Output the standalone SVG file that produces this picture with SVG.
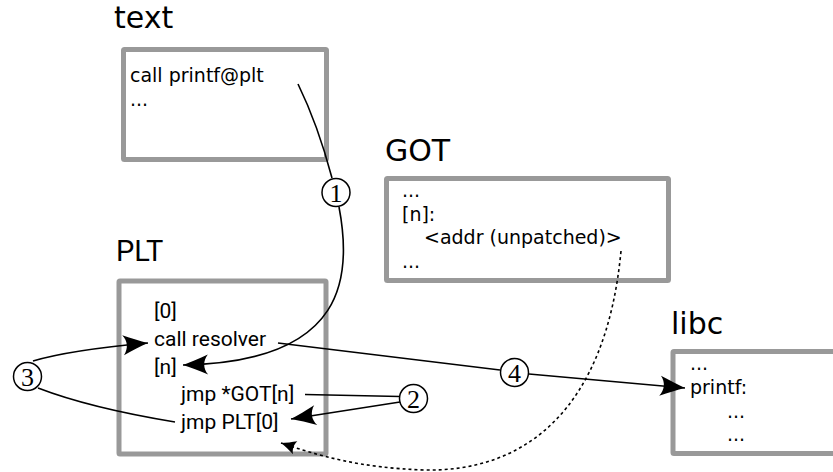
<svg xmlns="http://www.w3.org/2000/svg" width="833" height="472" viewBox="0 0 833 472">
<style>
.box{fill:#fff;stroke:#999;stroke-width:5;}
.title{font-family:"DejaVu Sans",sans-serif;font-size:30px;fill:#000;}
.titler{font-family:Roboto,sans-serif;font-size:29px;fill:#000;}
.t{font-family:"DejaVu Sans",sans-serif;font-size:19px;fill:#000;}
.r{font-family:Roboto,sans-serif;font-size:21px;fill:#000;}
.num{font-family:"Liberation Serif",serif;font-size:26px;fill:#000;text-anchor:middle;}
.circ{fill:#fff;stroke:#000;stroke-width:1.5;}
.ln{fill:none;stroke:#000;stroke-width:1.6;}
.dot{fill:none;stroke:#000;stroke-width:1.6;stroke-dasharray:3,3;}
</style>
<defs>
<marker id="arr" markerUnits="userSpaceOnUse" markerWidth="30" markerHeight="30" viewBox="-22 -10 24 20" refX="0" refY="0" orient="auto">
<path d="M0,0 C-6,-2 -13,-5 -20,-8 C-16,-3 -16,3 -20,8 C-13,5 -6,2 0,0 Z" fill="#000"/>
</marker>
<marker id="arrs" markerUnits="userSpaceOnUse" markerWidth="20" markerHeight="20" viewBox="-14 -7 16 14" refX="0" refY="0" orient="auto">
<path d="M0,0 C-4,-1.4 -8,-3.5 -12,-5.5 C-10,-2 -10,2 -12,5.5 C-8,3.5 -4,1.4 0,0 Z" fill="#000"/>
</marker>
</defs>

<g id="text-node">
<text class="title" x="114" y="28">text</text>
<rect class="box" x="123.5" y="49.5" width="203" height="110" rx="1"/>
<text class="t" x="130" y="82">call printf@plt</text>
<text class="t" x="130" y="106">...</text>
</g>

<g id="got-node">
<text class="title" x="385" y="161">GOT</text>
<rect class="box" x="386.5" y="178.5" width="282" height="102" rx="1"/>
<text class="t" x="402" y="197">...</text>
<text class="t" x="402" y="220.5">[n]:</text>
<text class="t" x="424" y="244">&lt;addr (unpatched)&gt;</text>
<text class="t" x="402" y="267.5">...</text>
</g>

<g id="plt-node">
<text class="titler" x="116" y="261">PLT</text>
<rect class="box" x="119" y="281" width="207" height="173" rx="1"/>
<text class="r" x="154" y="318">[0]</text>
<text class="r" x="154" y="346">call resolver</text>
<text class="r" x="154" y="374">[n]</text>
<text class="r" x="181" y="401">jmp *GOT[n]</text>
<text class="r" x="181" y="429">jmp PLT[0]</text>
</g>

<g id="libc-node">
<text class="title" x="671" y="334">libc</text>
<rect class="box" x="673" y="351.5" width="200" height="102" rx="1"/>
<text class="t" x="690" y="370">...</text>
<text class="t" x="690" y="394">printf:</text>
<text class="t" x="727" y="418">...</text>
<text class="t" x="727" y="441">...</text>
</g>

<g id="connectors">
<path class="ln" d="M298,84 Q318,125 332,178"/>
<path class="ln" d="M339,207 C352,275 348,362 183,365" marker-end="url(#arr)"/>
<path class="ln" d="M305,394.5 L400,396.5"/>
<path class="ln" d="M400,402 L291,419" marker-end="url(#arr)"/>
<path class="ln" d="M33,361 Q70,350 148,343" marker-end="url(#arr)"/>
<path class="ln" d="M38,388 Q90,408 175,422"/>
<path class="ln" d="M278,343 L500,370"/>
<path class="ln" d="M529,374 L685,388" marker-end="url(#arr)"/>
<path class="dot" d="M621,251 C606,410 525,472 425,470 C360,468 320,456 281,443" marker-end="url(#arrs)"/>
</g>

<g id="badge-1">
<circle class="circ" cx="336" cy="192.5" r="14"/>
<text class="num" x="336" y="201.5">1</text>
</g>
<g id="badge-2">
<circle class="circ" cx="413.5" cy="398.5" r="14"/>
<text class="num" x="413.5" y="407.5">2</text>
</g>
<g id="badge-3">
<circle class="circ" cx="27.5" cy="376.5" r="14"/>
<text class="num" x="27.5" y="385.5">3</text>
</g>
<g id="badge-4">
<circle class="circ" cx="514.5" cy="372.5" r="14"/>
<text class="num" x="514.5" y="381.5">4</text>
</g>
</svg>
